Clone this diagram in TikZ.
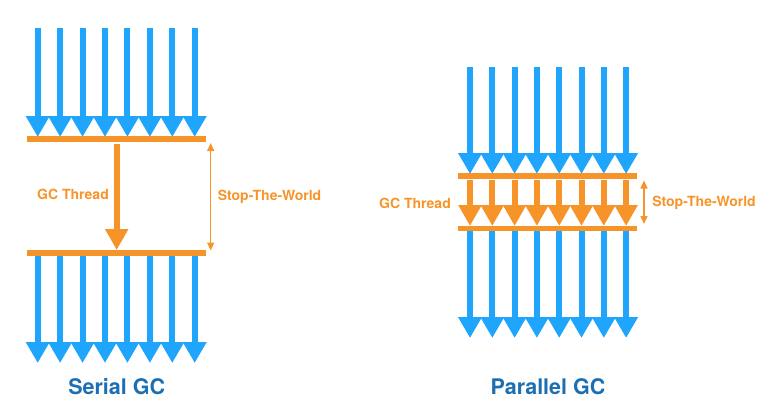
\documentclass[tikz,border=0pt]{standalone}
\usepackage{fontspec}
\setmainfont{TeX Gyre Heros}
\usetikzlibrary{arrows.meta}
\definecolor{flowblue}{RGB}{31,166,252}
\definecolor{gcorange}{RGB}{247,148,41}
\definecolor{titleblue}{RGB}{27,111,178}
\tikzset{
  flow/.style={draw=flowblue, line width=6pt, -{Triangle[width=22.5pt,length=21pt]}},
  gcflow/.style={draw=gcorange, line width=6pt, -{Triangle[width=22pt,length=21pt]}},
  gcbar/.style={draw=gcorange, line width=#1, line cap=butt},
  gcbar/.default=6pt,
  stw/.style={draw=gcorange, line width=1.5pt, {Triangle[width=7pt,length=8pt]}-{Triangle[width=7pt,length=8pt]}},
  lbl/.style={text=gcorange, font=\fontsize{14}{16}\selectfont\bfseries, inner sep=0pt},
  ttl/.style={text=titleblue, font=\fontsize{21.5}{24}\selectfont\bfseries, inner sep=0pt}
}
\begin{document}
\begin{tikzpicture}[x=1pt,y=-1pt]
\useasboundingbox (0,0) rectangle (773,418);
% ---------- Serial GC ----------
\coordinate (s1l) at (27,139); \coordinate (s1r) at (205.5,139);
\coordinate (s2l) at (27,253); \coordinate (s2r) at (205.5,253);
\foreach \i in {0,...,7} {
  \coordinate (sa\i) at ({37.7+22.43*\i},28);
  \coordinate (sb\i) at ({37.7+22.43*\i},137);
  \coordinate (sc\i) at ({37.7+22.43*\i},256);
  \coordinate (sd\i) at ({37.7+22.43*\i},363);
  \draw[flow] (sa\i) -- (sb\i);
  \draw[flow] (sc\i) -- (sd\i);
}
\draw[gcbar] (s1l) -- (s1r);
\draw[gcbar] (s2l) -- (s2r);
\coordinate (sg1) at (116.7,143.5); \coordinate (sg2) at (116.7,250);
\draw[gcflow] (sg1) -- (sg2);
\coordinate (st1) at (210.7,143); \coordinate (st2) at (210.7,250.5);
\draw[stw] (st1) -- (st2);
\node[lbl] (sgct) at (73,194) {GC Thread};
\node[lbl] (sstw) at (269.5,197) {Stop-The-World};
\node[ttl] (sttl) at (116.7,387) {Serial GC};
% ---------- Parallel GC ----------
\coordinate (p1l) at (458,176); \coordinate (p1r) at (637,176);
\coordinate (p2l) at (458,228.5); \coordinate (p2r) at (637,228.5);
\foreach \i in {0,...,7} {
  \coordinate (pa\i) at ({470+22.3*\i},67);
  \coordinate (pb\i) at ({470+22.3*\i},174);
  \coordinate (pc\i) at ({470+22.3*\i},231);
  \coordinate (pd\i) at ({470+22.3*\i},338);
  \coordinate (pe\i) at ({470+22.3*\i},180);
  \coordinate (pf\i) at ({470+22.3*\i},226);
  \draw[flow] (pa\i) -- (pb\i);
  \draw[flow] (pc\i) -- (pd\i);
  \draw[gcflow] (pe\i) -- (pf\i);
}
\draw[gcbar=5.5pt] (p1l) -- (p1r);
\draw[gcbar=5.5pt] (p2l) -- (p2r);
\coordinate (pt1) at (644,180.5); \coordinate (pt2) at (644,224);
\draw[stw] (pt1) -- (pt2);
\node[lbl] (pgct) at (415,203) {GC Thread};
\node[lbl] (pstw) at (704,203) {Stop-The-World};
\node[ttl] (pttl) at (548,387) {Parallel GC};
\end{tikzpicture}
\end{document}
